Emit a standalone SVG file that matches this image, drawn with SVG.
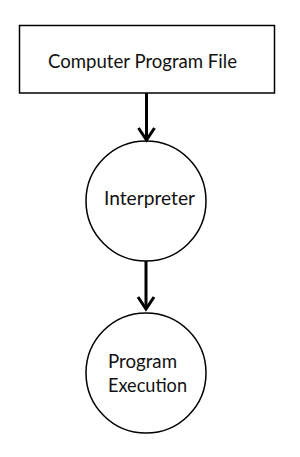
<svg xmlns="http://www.w3.org/2000/svg" width="300" height="457" viewBox="0 0 300 457">
<style>
.shape{fill:#fff;stroke:#000;stroke-width:1.5}
.lbl{font-family:Lato,"Open Sans","Liberation Sans",sans-serif;font-size:18.5px;fill:#111}
.conn{stroke:#000;stroke-width:3;fill:none}
.head{stroke:#000;stroke-width:3;fill:none;stroke-linejoin:miter}
</style>
<rect width="300" height="457" fill="#fff"/>
<g id="file">
<rect class="shape" x="19.5" y="25.5" width="255" height="67.5"/>
<text class="lbl" x="48" y="68" textLength="189" lengthAdjust="spacingAndGlyphs">Computer Program File</text>
</g>
<g id="interpreter">
<circle class="shape" cx="146" cy="201" r="60"/>
<text class="lbl" x="104" y="205" textLength="91" lengthAdjust="spacingAndGlyphs">Interpreter</text>
</g>
<g id="execution">
<circle class="shape" cx="146" cy="373" r="60"/>
<text class="lbl" x="108" y="368" textLength="69" lengthAdjust="spacingAndGlyphs">Program</text>
<text class="lbl" x="108" y="392" textLength="79" lengthAdjust="spacingAndGlyphs">Execution</text>
</g>
<g id="connectors">
<line class="conn" x1="146.5" y1="93" x2="146.5" y2="139"/>
<polyline class="head" points="138.5,128 146.5,140 154.5,128"/>
<line class="conn" x1="146" y1="261" x2="146" y2="308"/>
<polyline class="head" points="138,297 146,309 154,297"/>
</g>
</svg>
